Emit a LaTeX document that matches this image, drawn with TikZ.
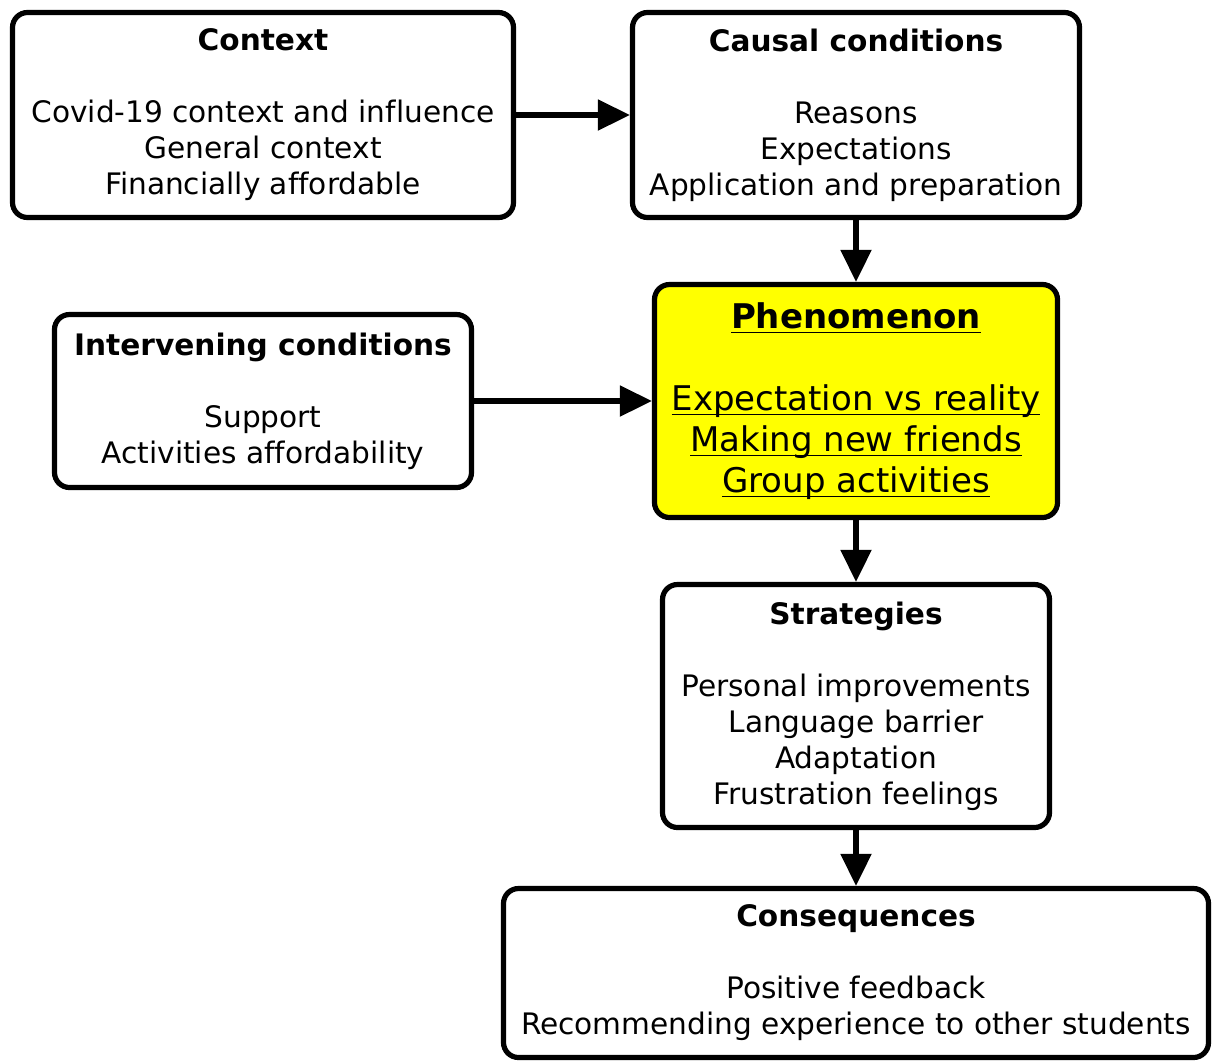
\documentclass[tikz,border=0pt]{standalone}
\usepackage{fontspec}
\setmainfont[Ligatures=NoCommon]{DejaVu Sans}
\usetikzlibrary{arrows.meta, positioning}

\definecolor{phenyellow}{RGB}{255,255,0}
\newcommand{\undl}[1]{\setbox0\hbox{#1}\rlap{\rule[-2.4pt]{\wd0}{0.8pt}}\box0}

\begin{document}
\begin{tikzpicture}[x=0.5pt, y=-0.5pt,
    box/.style = {draw, line width=2.6pt, rounded corners=7.5pt, inner sep=0pt,
      align=center, font=\fontsize{14.8}{18}\selectfont},
    link/.style = {line width=2.6pt, -{Triangle[length=16pt, width=15pt]}}]
  \useasboundingbox (0,0) rectangle (1214,1062);
  \node[box, minimum width=250.5pt, minimum height=102.5pt] (context) at (263,115)
    {\textbf{Context}\\[18pt] Covid-19 context and influence\\ General context\\ Financially affordable};
  \node[box, minimum width=223.5pt, minimum height=102.5pt] (causal) at (856,115)
    {\textbf{Causal conditions}\\[18pt] Reasons\\ Expectations\\ Application and preparation};
  \node[box, minimum width=208.5pt, minimum height=86.5pt] (interv) at (263,401)
    {\textbf{Intervening conditions}\\[18pt] Support\\ Activities affordability};
  \node[box, fill=phenyellow, minimum width=201.5pt, minimum height=116.5pt,
    font=\fontsize{17}{20.5}\selectfont] (phen) at (856,401)
    {\undl{\textbf{Phenomenon}}\\[20.5pt] \undl{Expectation vs reality}\\ \undl{Making new friends}\\ \undl{Group activities}};
  \node[box, minimum width=193.5pt, minimum height=121.5pt] (strat) at (856,706)
    {\textbf{Strategies}\\[18pt] Personal improvements\\ Language barrier\\ Adaptation\\ Frustration feelings};
  \node[box, minimum width=352.5pt, minimum height=84.5pt] (conseq) at (856,973)
    {\textbf{Consequences}\\[18pt] Positive feedback\\ Recommending experience to other students};
  \path[link]
    (context) edge (causal)
    (causal) edge (phen)
    (interv) edge (phen)
    (phen) edge (strat)
    (strat) edge (conseq);
\end{tikzpicture}
\end{document}
